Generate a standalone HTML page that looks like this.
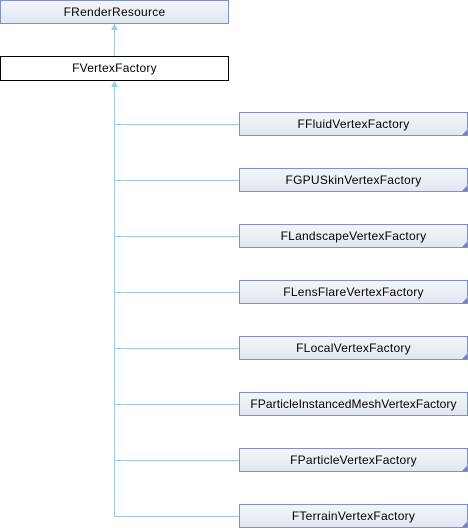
<!DOCTYPE html>
<html><head><style>
body{margin:0;width:468px;height:528px;background:#fff;position:relative;overflow:hidden;font-family:"Liberation Sans",sans-serif;}
.b{position:absolute;box-sizing:border-box;height:24px;border:1px solid #8090c8;background:linear-gradient(#f3f5fa,#e2e7f2);font-size:12px;line-height:22px;text-align:center;color:#000;letter-spacing:0.25px;}
.b.c::after{content:"";position:absolute;right:0;bottom:0;border-style:solid;border-width:0 0 5px 5px;border-color:transparent transparent #6f83c3 transparent;}
svg{position:absolute;left:0;top:0;}
</style></head><body>
<svg width="468" height="528">
<g stroke="#9ccbea" stroke-width="1" fill="none">
<line x1="114.5" y1="28" x2="114.5" y2="56"/>
<line x1="114.5" y1="85" x2="114.5" y2="516.5"/>
<line x1="114.5" y1="124.5" x2="239" y2="124.5"/>
<line x1="114.5" y1="180.5" x2="239" y2="180.5"/>
<line x1="114.5" y1="236.5" x2="239" y2="236.5"/>
<line x1="114.5" y1="292.5" x2="239" y2="292.5"/>
<line x1="114.5" y1="348.5" x2="239" y2="348.5"/>
<line x1="114.5" y1="404.5" x2="239" y2="404.5"/>
<line x1="114.5" y1="460.5" x2="239" y2="460.5"/>
<line x1="114.5" y1="516.5" x2="239" y2="516.5"/>
</g>
<g fill="#9ccbea">
<polygon points="114.5,24 111,30 118,30"/>
<polygon points="114.5,81 111,87 118,87"/>
</g>
</svg>
<div class="b" style="left:0;top:0;width:229px;">FRenderResource</div>
<div class="b" style="left:0;top:56px;width:229px;height:25px;border-color:#000;background:#fff;">FVertexFactory</div>
<div class="b c" style="left:239px;top:112px;width:229px;">FFluidVertexFactory</div>
<div class="b c" style="left:239px;top:168px;width:229px;">FGPUSkinVertexFactory</div>
<div class="b c" style="left:239px;top:224px;width:229px;">FLandscapeVertexFactory</div>
<div class="b c" style="left:239px;top:280px;width:229px;">FLensFlareVertexFactory</div>
<div class="b c" style="left:239px;top:336px;width:229px;">FLocalVertexFactory</div>
<div class="b" style="left:239px;top:392px;width:229px;letter-spacing:0.1px;">FParticleInstancedMeshVertexFactory</div>
<div class="b c" style="left:239px;top:448px;width:229px;">FParticleVertexFactory</div>
<div class="b c" style="left:239px;top:504px;width:229px;">FTerrainVertexFactory</div>
</body></html>
